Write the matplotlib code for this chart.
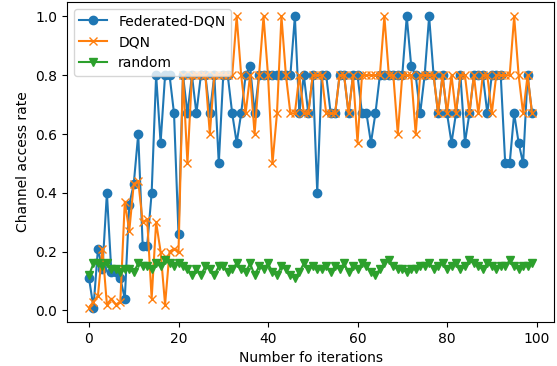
import numpy as np
import matplotlib
matplotlib.use('Agg')
import matplotlib.pyplot as plt

# Channel access rate per iteration
iterations = np.arange(100)

fed_dqn = [0.11, 0.01, 0.21, 0.14, 0.40, 0.13, 0.13, 0.11, 0.04, 0.36,
           0.43, 0.60, 0.22, 0.22, 0.40, 0.80, 0.57, 0.80, 0.80, 0.67,
           0.26, 0.80, 0.67, 0.80, 0.67, 0.80, 0.80, 0.67, 0.80, 0.50,
           0.80, 0.80, 0.67, 0.57, 0.67, 0.80, 0.83, 0.67, 0.80, 0.80,
           0.80, 0.80, 0.80, 0.80, 0.80, 0.80, 1.00, 0.67, 0.80, 0.67,
           0.80, 0.40, 0.80, 0.80, 0.67, 0.67, 0.80, 0.80, 0.67, 0.80,
           0.80, 0.67, 0.67, 0.57, 0.67, 0.80, 0.80, 0.80, 0.80, 0.80,
           0.80, 1.00, 0.83, 0.80, 0.67, 0.80, 1.00, 0.80, 0.67, 0.80,
           0.67, 0.57, 0.67, 0.80, 0.57, 0.67, 0.80, 0.80, 0.80, 0.67,
           0.80, 0.80, 0.80, 0.50, 0.50, 0.67, 0.57, 0.50, 0.80, 0.67]

dqn = [0.01, 0.03, 0.05, 0.21, 0.02, 0.04, 0.02, 0.03, 0.37, 0.27,
       0.43, 0.44, 0.30, 0.31, 0.04, 0.30, 0.20, 0.02, 0.20, 0.21,
       0.20, 0.80, 0.50, 0.80, 0.80, 0.80, 0.80, 0.60, 0.80, 0.80,
       0.80, 0.80, 0.80, 1.00, 0.80, 0.67, 0.80, 0.60, 0.80, 1.00,
       0.80, 0.50, 0.67, 1.00, 0.80, 0.67, 0.67, 0.80, 0.67, 0.67,
       0.80, 0.80, 0.80, 0.67, 0.67, 0.67, 0.80, 0.80, 0.67, 0.80,
       0.57, 0.80, 0.80, 0.80, 0.80, 0.80, 1.00, 0.80, 0.80, 0.60,
       0.80, 0.80, 0.80, 0.60, 0.80, 0.80, 0.80, 0.80, 0.67, 0.80,
       0.67, 0.80, 0.67, 0.80, 0.80, 0.67, 0.80, 0.67, 0.80, 0.80,
       0.67, 0.80, 0.80, 0.80, 0.80, 1.00, 0.80, 0.67, 0.80, 0.67]

random_policy = [0.12, 0.16, 0.16, 0.15, 0.16, 0.14, 0.14, 0.13, 0.14, 0.14,
                 0.13, 0.16, 0.15, 0.15, 0.14, 0.16, 0.15, 0.17, 0.16, 0.15,
                 0.16, 0.15, 0.14, 0.12, 0.14, 0.12, 0.15, 0.14, 0.12, 0.15,
                 0.15, 0.13, 0.14, 0.16, 0.14, 0.13, 0.16, 0.12, 0.15, 0.14,
                 0.16, 0.13, 0.12, 0.15, 0.14, 0.12, 0.11, 0.13, 0.16, 0.14,
                 0.15, 0.14, 0.14, 0.15, 0.13, 0.15, 0.14, 0.16, 0.13, 0.15,
                 0.14, 0.16, 0.15, 0.13, 0.12, 0.14, 0.16, 0.17, 0.15, 0.14,
                 0.14, 0.13, 0.14, 0.14, 0.15, 0.15, 0.16, 0.14, 0.15, 0.16,
                 0.14, 0.15, 0.16, 0.14, 0.15, 0.17, 0.16, 0.15, 0.14, 0.16,
                 0.15, 0.14, 0.15, 0.15, 0.17, 0.15, 0.14, 0.15, 0.15, 0.16]

fig = plt.figure(figsize=(5.57, 3.66), dpi=100)
ax = fig.add_axes([0.120, 0.120, 0.875, 0.875])

ax.plot(iterations, fed_dqn, marker='o', label='Federated-DQN')
ax.plot(iterations, dqn, marker='x', label='DQN')
ax.plot(iterations, random_policy, marker='v', label='random')

ax.set_xlabel('Number fo iterations')
ax.set_ylabel('Channel access rate')
ax.legend(loc='upper left')

fig.savefig('out.png', dpi=100)
